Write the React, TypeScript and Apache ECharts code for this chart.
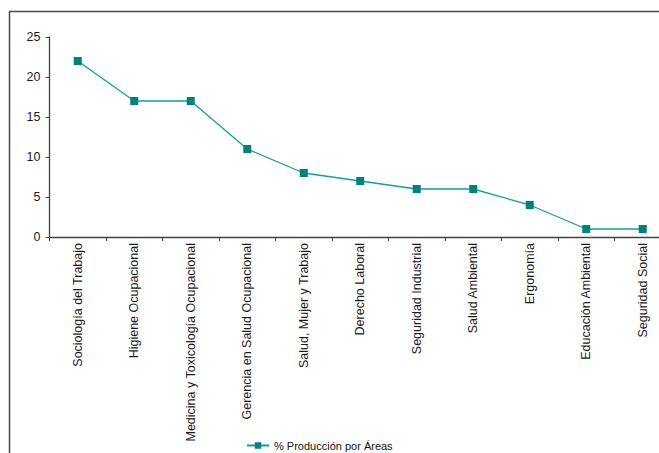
import React, { useEffect, useRef } from "react";
import * as echarts from "echarts";

const categories = [
  "Sociología del Trabajo",
  "Higiene Ocupacional",
  "Medicina y Toxicología Ocupacional",
  "Gerencia en Salud Ocupacional",
  "Salud, Mujer y Trabajo",
  "Derecho Laboral",
  "Seguridad Industrial",
  "Salud Ambiental",
  "Ergonomía",
  "Educación Ambiental",
  "Seguridad Social",
];
const seriesName = "% Producción por Áreas";
const values = [22, 17, 17, 11, 8, 7, 6, 6, 4, 1, 1];
const yTicks = { min: 0, max: 25, interval: 5 };

const FONT = "'Liberation Sans', Arial, sans-serif";

export default function App() {
  const ref = useRef<HTMLDivElement>(null);
  useEffect(() => {
    if (!ref.current) return;
    const chart = echarts.init(ref.current, undefined, { renderer: "svg" });
    chart.setOption({
      animation: false,
      backgroundColor: "#ffffff",
      textStyle: { fontFamily: FONT },
      grid: { left: 49.5, right: 29, top: 37, bottom: 216, containLabel: false },
      graphic: [
        {
          type: "polyline",
          shape: { points: [[9.5, 460], [9.5, 11.5], [720, 11.5]] },
          style: { stroke: "#4a4a4a", lineWidth: 1.5, fill: null },
          silent: true,
        },
      ],
      legend: {
        left: 246,
        top: 440,
        itemWidth: 22,
        itemHeight: 8,
        itemGap: 5,
        padding: 0,
        textStyle: { fontFamily: FONT, fontSize: 11, color: "#111" },
        data: [{ name: seriesName }],
      },
      xAxis: {
        type: "category",
        data: categories,
        boundaryGap: true,
        axisLine: { lineStyle: { color: "#444", width: 1.3 } },
        axisTick: { show: true, alignWithLabel: false, length: 4, lineStyle: { color: "#444" } },
        axisLabel: {
          rotate: 90,
          interval: 0,
          margin: 6,
          fontSize: 12.5,
          color: "#1a1a1a",
          fontFamily: FONT,
        },
        splitLine: { show: false },
      },
      yAxis: {
        type: "value",
        min: yTicks.min,
        max: yTicks.max,
        interval: yTicks.interval,
        axisLine: { show: true, lineStyle: { color: "#444", width: 1.3 } },
        axisTick: { show: true, length: 4, lineStyle: { color: "#444" } },
        axisLabel: { margin: 9, fontSize: 12.5, color: "#1a1a1a", fontFamily: FONT },
        splitLine: { show: false },
      },
      series: [
        {
          name: seriesName,
          type: "line",
          data: values,
          symbol: "rect",
          symbolSize: 8,
          showSymbol: true,
          itemStyle: { color: "#00827c" },
          lineStyle: { color: "#1a9c97", width: 1.3 },
        },
      ],
    });
    return () => chart.dispose();
  }, []);
  return (
    <div
      style={{
        position: "fixed",
        left: 0,
        top: 0,
        width: 659,
        height: 453,
        overflow: "hidden",
        background: "#fff",
      }}
    >
      <div ref={ref} style={{ width: 700, height: 453 }} />
    </div>
  );
}
